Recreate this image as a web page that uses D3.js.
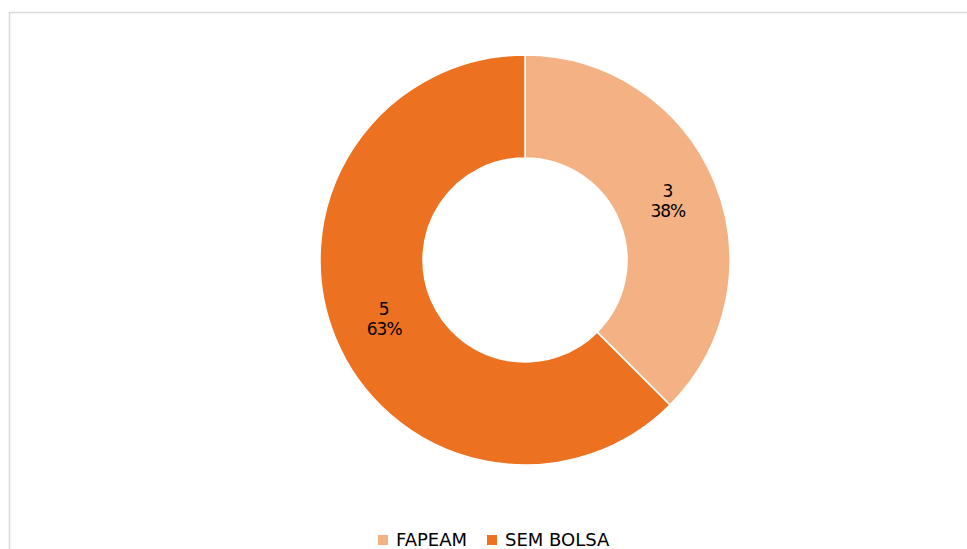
<!DOCTYPE html>
<html>
<head>
<meta charset="utf-8">
<script src="https://cdn.jsdelivr.net/npm/d3@7"></script>
<style>
  body { margin: 0; background: #fff; }
  svg { display: block; }
  text { font-family: "DejaVu Sans", sans-serif; fill: #000; }
</style>
</head>
<body>
<svg width="967" height="549"></svg>
<script>
const categories = ["FAPEAM", "SEM BOLSA"];
const values = [3, 5];
const colours = ["#F4B183", "#EC7120"];

const svg = d3.select("svg");

// chart area border
svg.append("rect")
   .attr("x", 9.5).attr("y", 12.5)
   .attr("width", 970).attr("height", 560)
   .attr("fill", "none")
   .attr("stroke", "#d9d9d9")
   .attr("stroke-width", 1.5);

const cx = 525, cy = 260, outer = 205, inner = 102;
const total = d3.sum(values);

const pie = d3.pie().sort(null).value(d => d.value);
const arc = d3.arc().innerRadius(inner).outerRadius(outer);

const data = categories.map((c, i) => ({ name: c, value: values[i], colour: colours[i] }));

const g = svg.append("g").attr("transform", `translate(${cx},${cy})`);

g.selectAll("path")
 .data(pie(data))
 .enter()
 .append("path")
 .attr("d", arc)
 .attr("fill", d => d.data.colour)
 .attr("stroke", "#fff")
 .attr("stroke-width", 1.5);

const labels = g.selectAll("text.label")
 .data(pie(data))
 .enter()
 .append("text")
 .attr("class", "label")
 .attr("text-anchor", "middle")
 .attr("font-size", "17px")
 .attr("transform", d => {
     const [x, y] = arc.centroid(d);
     return `translate(${x + 1},${y})`;
 });

labels.append("tspan").attr("x", 0).attr("y", -4).text(d => d.data.value);
labels.append("tspan").attr("x", 0).attr("y", 16).attr("letter-spacing", "-1px")
      .text(d => Math.round(d.data.value / total * 100) + "%");

// legend
const legend = svg.append("g");
const items = [{ x: 378 }, { x: 487 }];
data.forEach((d, i) => {
    const item = legend.append("g").attr("transform", `translate(${items[i].x},535)`);
    item.append("rect").attr("width", 10).attr("height", 10).attr("fill", d.colour);
    item.append("text").attr("x", 18).attr("y", 11).attr("font-size", "18px").text(d.name);
});
</script>
</body>
</html>
